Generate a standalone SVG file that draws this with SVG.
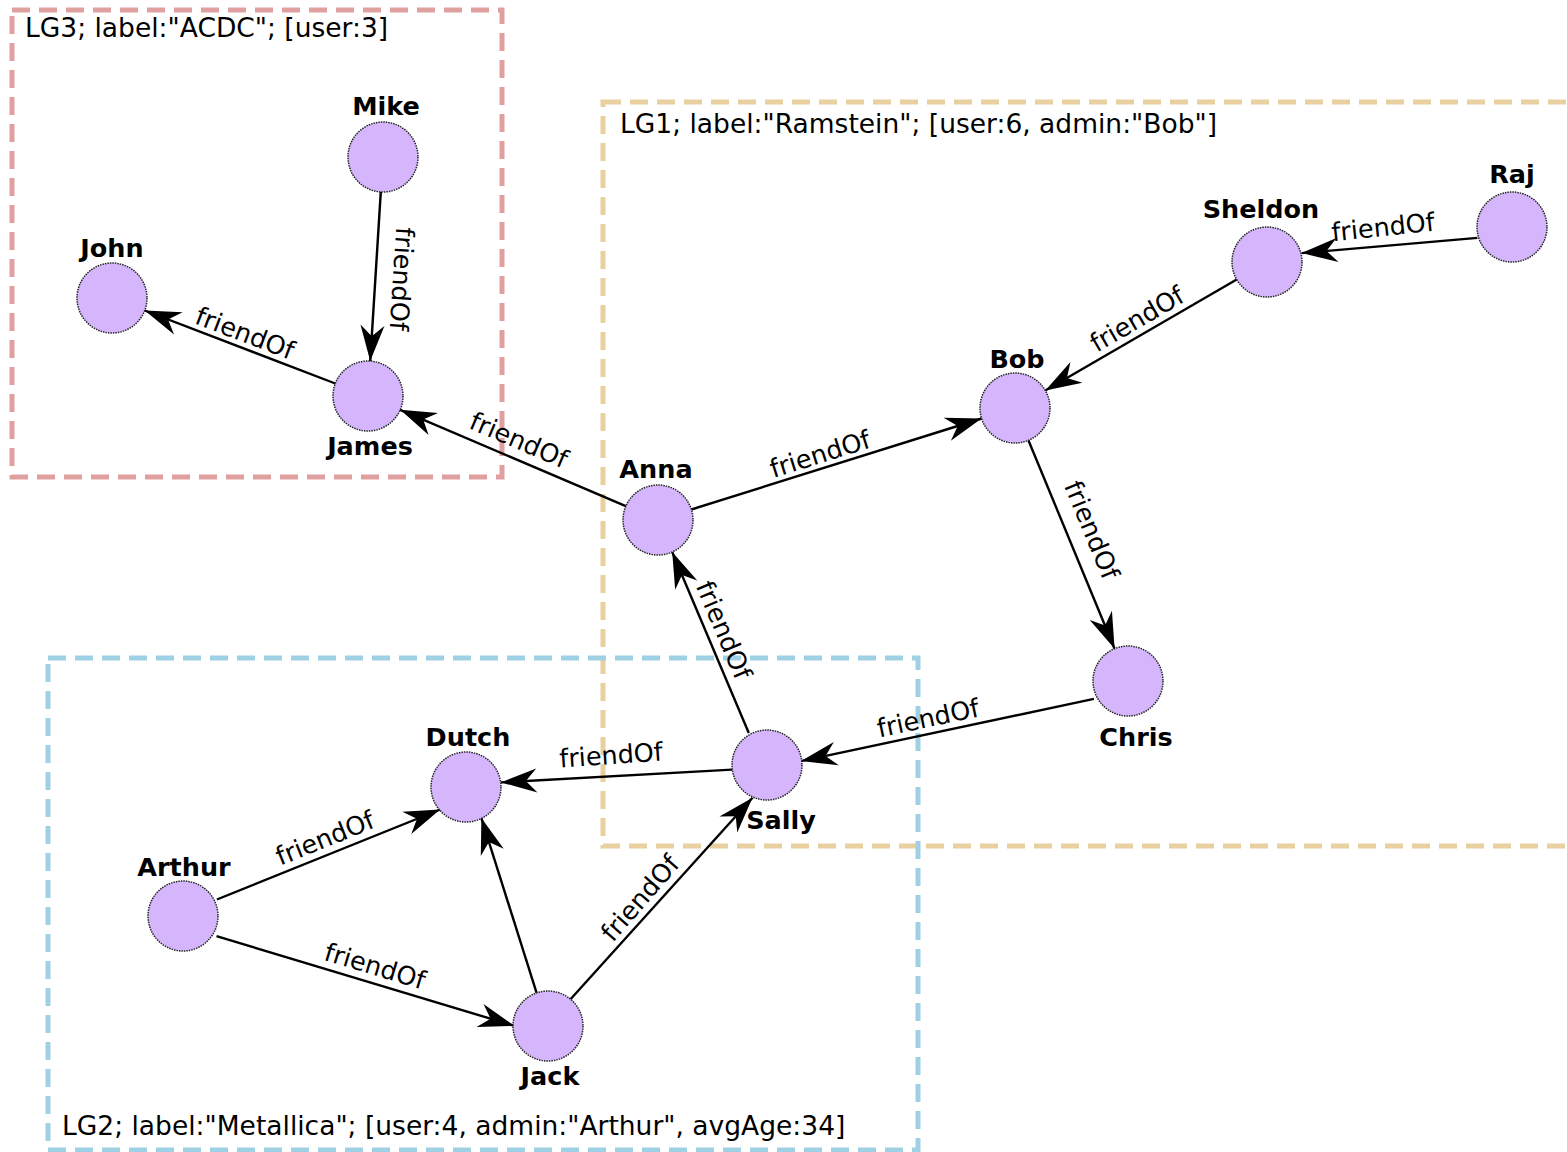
<svg xmlns="http://www.w3.org/2000/svg" width="1567" height="1152" viewBox="0 0 1567 1152">
<style>
.grp{fill:none;stroke-width:5;stroke-dasharray:18,9}
.gl{font-family:"DejaVu Sans","Liberation Sans",sans-serif;font-size:26.5px;fill:#000}
.node circle{fill:#d5b6fd;stroke:#222;stroke-width:1.5;stroke-dasharray:1.5,1}
.node text{font-family:"DejaVu Sans","Liberation Sans",sans-serif;font-size:25.5px;font-weight:bold;text-anchor:middle;fill:#000}
.edge line{stroke:#000;stroke-width:2.4;marker-end:url(#arr)}
.el{font-family:"DejaVu Sans","Liberation Sans",sans-serif;font-size:25.5px;text-anchor:middle;fill:#000}
</style>
<defs>
<marker id="arr" markerUnits="userSpaceOnUse" markerWidth="40" markerHeight="30" viewBox="-38 -14 40 28" refX="0" refY="0" orient="auto">
<path d="M0,0 L-36,-12 L-25,0 L-36,12 Z" fill="#000"/>
</marker>
</defs>
<rect width="1567" height="1152" fill="#fff"/>
<g id="groups">
<g id="LG3"><rect class="grp" x="12" y="10" width="490" height="467" stroke="#e0a0a0"/><text class="gl" x="25" y="37">LG3; label:"ACDC"; [user:3]</text></g>
<g id="LG1"><rect class="grp" x="603" y="102" width="1000" height="744" stroke="#e8d19f"/><text class="gl" x="620" y="133">LG1; label:"Ramstein"; [user:6, admin:"Bob"]</text></g>
<g id="LG2"><rect class="grp" x="48" y="658" width="870" height="492" stroke="#9fd0e4"/><text class="gl" x="62" y="1135">LG2; label:"Metallica"; [user:4, admin:"Arthur", avgAge:34]</text></g>
</g>
<g id="connectors">
<g class="edge"><line x1="380.8" y1="191.9" x2="370.2" y2="361.1"/><text class="el" transform="translate(402,279) rotate(93.6)" dy="9">friendOf</text></g>
<g class="edge"><line x1="335.3" y1="383.5" x2="144.7" y2="310.5"/><text class="el" transform="translate(245,333) rotate(20.9)" dy="9">friendOf</text></g>
<g class="edge"><line x1="625.8" y1="506.2" x2="400.2" y2="409.8"/><text class="el" transform="translate(519,440) rotate(23.2)" dy="9">friendOf</text></g>
<g class="edge"><line x1="691.4" y1="509.5" x2="981.6" y2="418.5"/><text class="el" transform="translate(820,454) rotate(-17.4)" dy="9">friendOf</text></g>
<g class="edge"><line x1="1236.7" y1="279.5" x2="1045.3" y2="390.5"/><text class="el" transform="translate(1137,319) rotate(-30.1)" dy="9">friendOf</text></g>
<g class="edge"><line x1="1477.4" y1="237.9" x2="1301.6" y2="253.1"/><text class="el" transform="translate(1383,227) rotate(-6)" dy="9">friendOf</text></g>
<g class="edge"><line x1="1028.4" y1="440.3" x2="1114.6" y2="648.7"/><text class="el" transform="translate(1092,530) rotate(67.5)" dy="9">friendOf</text></g>
<g class="edge"><line x1="1093.9" y1="698.9" x2="801.1" y2="761.1"/><text class="el" transform="translate(928,718) rotate(-12)" dy="9">friendOf</text></g>
<g class="edge"><line x1="748.8" y1="733" x2="672.2" y2="552"/><text class="el" transform="translate(724,630) rotate(67)" dy="9">friendOf</text></g>
<g class="edge"><line x1="732.1" y1="769.6" x2="500.9" y2="782.4"/><text class="el" transform="translate(611,755) rotate(-4)" dy="9">friendOf</text></g>
<g class="edge"><line x1="216.9" y1="899.5" x2="440.2" y2="809.5"/><text class="el" transform="translate(325,838) rotate(-22)" dy="9">friendOf</text></g>
<g class="edge"><line x1="216.5" y1="936.1" x2="514.5" y2="1025.9"/><text class="el" transform="translate(375,966) rotate(16.8)" dy="9">friendOf</text></g>
<g class="edge"><line x1="536.6" y1="992.9" x2="481.4" y2="818.1"/></g>
<g class="edge"><line x1="570.5" y1="999.2" x2="752.5" y2="797.8"/><text class="el" transform="translate(640,898) rotate(-49)" dy="9">friendOf</text></g>
</g>
<g id="nodes">
<g id="Mike" class="node"><circle cx="383" cy="157" r="35"/><text x="386" y="115">Mike</text></g>
<g id="John" class="node"><circle cx="112" cy="298" r="35"/><text x="112" y="257">John</text></g>
<g id="James" class="node"><circle cx="368" cy="396" r="35"/><text x="370" y="455">James</text></g>
<g id="Anna" class="node"><circle cx="658" cy="520" r="35"/><text x="656" y="478">Anna</text></g>
<g id="Bob" class="node"><circle cx="1015" cy="408" r="35"/><text x="1017" y="368">Bob</text></g>
<g id="Sheldon" class="node"><circle cx="1267" cy="262" r="35"/><text x="1261" y="218">Sheldon</text></g>
<g id="Raj" class="node"><circle cx="1512" cy="227" r="35"/><text x="1512" y="183">Raj</text></g>
<g id="Chris" class="node"><circle cx="1128" cy="681" r="35"/><text x="1136" y="746">Chris</text></g>
<g id="Sally" class="node"><circle cx="767" cy="765" r="35"/><text x="781" y="829">Sally</text></g>
<g id="Dutch" class="node"><circle cx="466" cy="787" r="35"/><text x="468" y="746">Dutch</text></g>
<g id="Arthur" class="node"><circle cx="183" cy="916" r="35"/><text x="184" y="876">Arthur</text></g>
<g id="Jack" class="node"><circle cx="548" cy="1026" r="35"/><text x="550" y="1085">Jack</text></g>
</g>
</svg>
